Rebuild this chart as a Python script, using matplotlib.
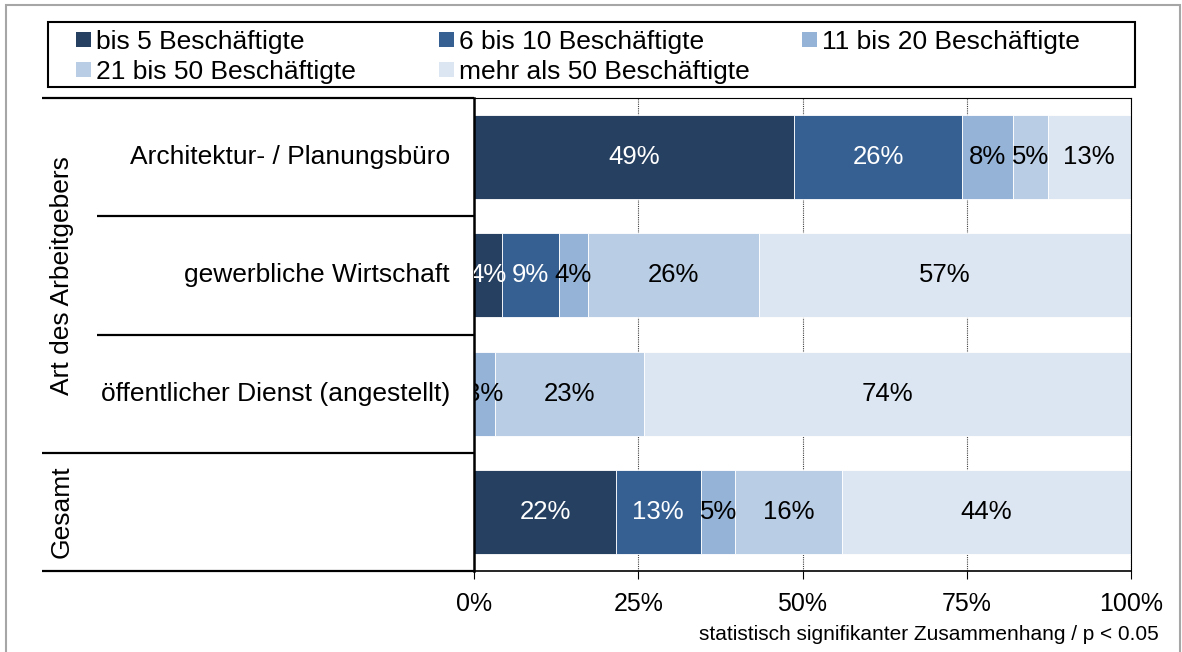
import numpy as np
import matplotlib
matplotlib.use('Agg')
import matplotlib.pyplot as plt
from matplotlib.patches import Rectangle

plt.rcParams['font.family'] = ['Liberation Sans', 'DejaVu Sans']

# Daten
categories = ['Architektur- / Planungsbüro', 'gewerbliche Wirtschaft',
              'öffentlicher Dienst (angestellt)', '']
series_names = ['bis 5 Beschäftigte', '6 bis 10 Beschäftigte', '11 bis 20 Beschäftigte',
                '21 bis 50 Beschäftigte', 'mehr als 50 Beschäftigte']
bis_5 = [48.7, 4.3, 0.0, 21.6]
bis_10 = [25.6, 8.6, 0.0, 12.9]
bis_20 = [7.8, 4.4, 3.2, 5.3]
bis_50 = [5.2, 26.1, 22.6, 16.2]
mehr_50 = [12.7, 56.6, 74.2, 44.0]
group_labels = ['Art des Arbeitgebers', 'Gesamt']
x_ticks = [0, 25, 50, 75, 100]
x_tick_labels = ['0%', '25%', '50%', '75%', '100%']
footnote = 'statistisch signifikanter Zusammenhang / p < 0.05'

colors = ['#264061', '#366092', '#95B3D7', '#B9CDE5', '#DCE6F2']
text_colors = ['white', 'white', 'black', 'black', 'black']

W, H = 1182, 652
fig = plt.figure(figsize=(W / 100, H / 100), dpi=100)
ax = fig.add_axes([474 / W, 1 - 571 / H, 657 / W, 473 / H])

y = np.arange(len(categories))
left = np.zeros(len(categories))
for vals, name, col, tcol in zip([bis_5, bis_10, bis_20, bis_50, mehr_50],
                                 series_names, colors, text_colors):
    vals = np.array(vals)
    ax.barh(y, vals, left=left, height=0.71, color=col,
            edgecolor='white', linewidth=0.6, label=name)
    for yi, v, l in zip(y, vals, left):
        if v > 0:
            ax.text(l + v / 2, yi, f'{v:.0f}%', ha='center', va='center',
                    color=tcol, fontsize=18.5, clip_on=True)
    left += vals

ax.set_xlim(0, 100)
ax.set_ylim(len(categories) - 0.5, -0.5)
ax.set_yticks([])
ax.set_xticks(x_ticks)
ax.set_xticklabels(x_tick_labels, fontsize=18)
ax.tick_params(axis='x', length=6, width=0.8, pad=9, direction='out')

ax.xaxis.grid(True, linestyle=(0, (1, 1)), color='#404040', linewidth=0.8)
ax.set_axisbelow(True)

for s in ['top', 'right']:
    ax.spines[s].set_linewidth(0.8)
ax.spines['left'].set_linewidth(1.8)
ax.spines['bottom'].set_linewidth(1.2)

# Linien und Beschriftungen links
ytr = ax.get_yaxis_transform()
x_far = (42 - 474) / 657
x_near = (97 - 474) / 657
for yl, x0 in [(-0.5, x_far), (0.5, x_near), (1.5, x_near), (2.5, x_far), (3.5, x_far)]:
    ax.plot([x0, 0], [yl, yl], color='black', linewidth=1.6, transform=ytr,
            clip_on=False, solid_capstyle='butt')

for yi, cat in zip(y, categories):
    ax.text(-24 / 657, yi, cat, ha='right', va='center', fontsize=19,
            transform=ytr)

ax.text((62 - 474) / 657, 1, group_labels[0], rotation=90, ha='center',
        va='center', fontsize=19, transform=ytr)
ax.text((62 - 474) / 657, 3, group_labels[1], rotation=90, ha='center',
        va='center', fontsize=19, transform=ytr)

# Legende wie in Excel: gleich breite Spalten, zeilenweise gefüllt
fig.add_artist(Rectangle((48 / W, 1 - 87 / H), (1135 - 48) / W, 65 / H,
                         transform=fig.transFigure, fill=False,
                         edgecolor='black', linewidth=1.5))
col_w, row_h = 363, 30
for i, (name, col) in enumerate(zip(series_names, colors)):
    lx = 76 + (i % 3) * col_w
    ly = 39 + (i // 3) * row_h
    fig.add_artist(Rectangle((lx / W, 1 - (ly + 7.5) / H), 15 / W, 15 / H,
                             transform=fig.transFigure, facecolor=col,
                             edgecolor='none'))
    fig.text((lx + 20) / W, 1 - ly / H, name, ha='left', va='center_baseline',
             fontsize=19)

fig.text(1159 / W, 1 - 635 / H, footnote, ha='right', va='center', fontsize=15)

# Rahmen
fig.add_artist(Rectangle((6 / W, -0.1), (1180 - 6) / W, 1.1 - 5 / H,
                         transform=fig.transFigure, fill=False,
                         edgecolor='#a6a6a6', linewidth=1.5))

plt.savefig('out.png', dpi=100)
